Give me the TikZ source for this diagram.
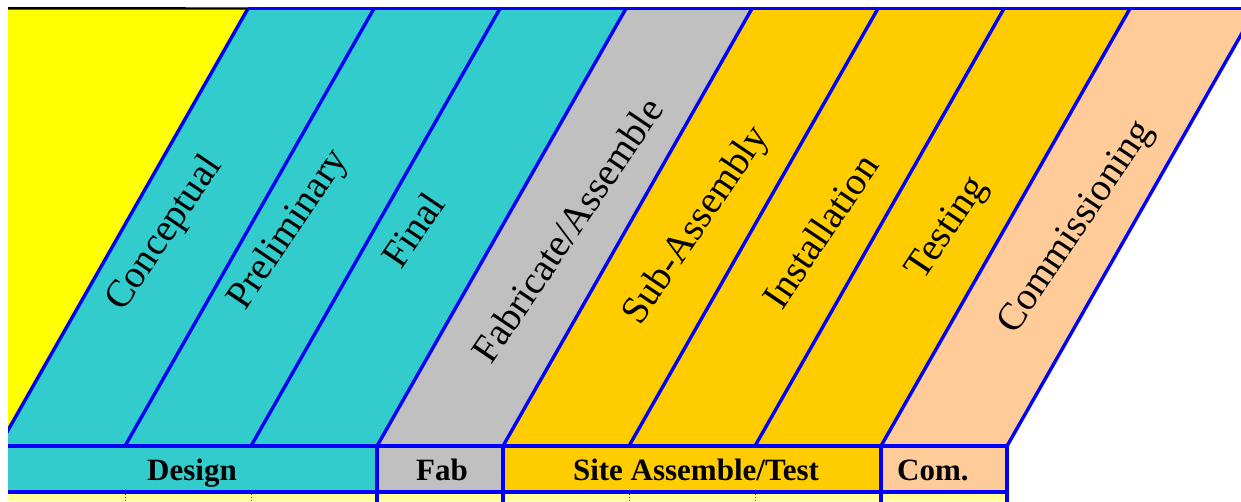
\documentclass[tikz,border=0pt]{standalone}
\usepackage{fontspec}
\setmainfont{Liberation Serif}
\definecolor{bblue}{RGB}{0,0,255}
\definecolor{cyanb}{RGB}{51,204,204}
\definecolor{grayb}{RGB}{192,192,192}
\definecolor{goldb}{RGB}{255,204,0}
\definecolor{peachb}{RGB}{255,204,153}
\definecolor{paley}{RGB}{255,255,153}
\definecolor{yel}{RGB}{255,255,0}
\begin{document}
\begin{tikzpicture}[x=1pt,y=-1pt,
  edge/.style={draw=bblue, line width=3.4pt},
  phase/.style={font=\fontsize{39}{45}\selectfont, rotate=56, inner sep=0pt},
  group/.style={font=\bfseries\fontsize{31}{36}\selectfont, inner sep=0pt, anchor=base},
  tick/.style={draw=black!70, dotted, line width=0.8pt}]
\useasboundingbox (0,0) rectangle (1241,501);
\foreach \i in {0,...,8} {
  \coordinate (t\i) at ({248+126*\i},8.5);
  \coordinate (b\i) at ({-1+126*\i},446);
}
\begin{scope}
\clip (8,6) rectangle (1241,501);
\fill[yel] (0,8.5) -- (t0) -- (b0) -- (0,446) -- cycle;
\foreach \i/\j/\c in {0/1/cyanb,1/2/cyanb,2/3/cyanb,3/4/grayb,4/5/goldb,5/6/goldb,6/7/goldb,7/8/peachb}
  \fill[\c] (t\i) -- (t\j) -- (b\j) -- (b\i) -- cycle;
% bottom bar
\fill[cyanb] (8,446) rectangle (377,492);
\fill[grayb] (377,446) rectangle (503,492);
\fill[goldb] (503,446) rectangle (881,492);
\fill[peachb] (881,446) rectangle (1007,492);
\fill[paley] (8,492) rectangle (1007,501);
% slanted lines
\foreach \i in {0,...,8} \draw[edge] (t\i) -- (b\i);
% top line
\draw[black, line width=2.4pt] (8,8.3) -- (t0);
\draw[edge] (t0) -- (1250,8.5);
% bar lines
\draw[edge] (8,446) -- (b8);
\draw[edge] (8,492) -- (1007,492);
\foreach \x in {377,503,881,1007} \draw[edge] (\x,446) -- (\x,503);
\foreach \x in {125,251,629,755} \draw[tick] (\x,494) -- (\x,501);
\end{scope}
% phase labels
\node[phase] (conc) at (165,234) {Conceptual};
\node[phase] (prel) at (289,230) {Preliminary};
\node[phase] (fin) at (413,230) {Final};
\node[phase] (fab) at (567,230) {Fabricate/Assemble};
\node[phase] (sub) at (697,226) {Sub-Assembly};
\node[phase] (inst) at (820,231) {Installation};
\node[phase] (test) at (948,229) {Testing};
\node[phase] (comm) at (1077,228) {Commissioning};
% group labels
\node[group] (design) at (192,480) {Design};
\node[group] (fabg) at (442,480) {Fab};
\node[group] (site) at (696,480) {Site Assemble/Test};
\node[group, anchor=base west] (com) at (897,480) {Com.};
\end{tikzpicture}
\end{document}
